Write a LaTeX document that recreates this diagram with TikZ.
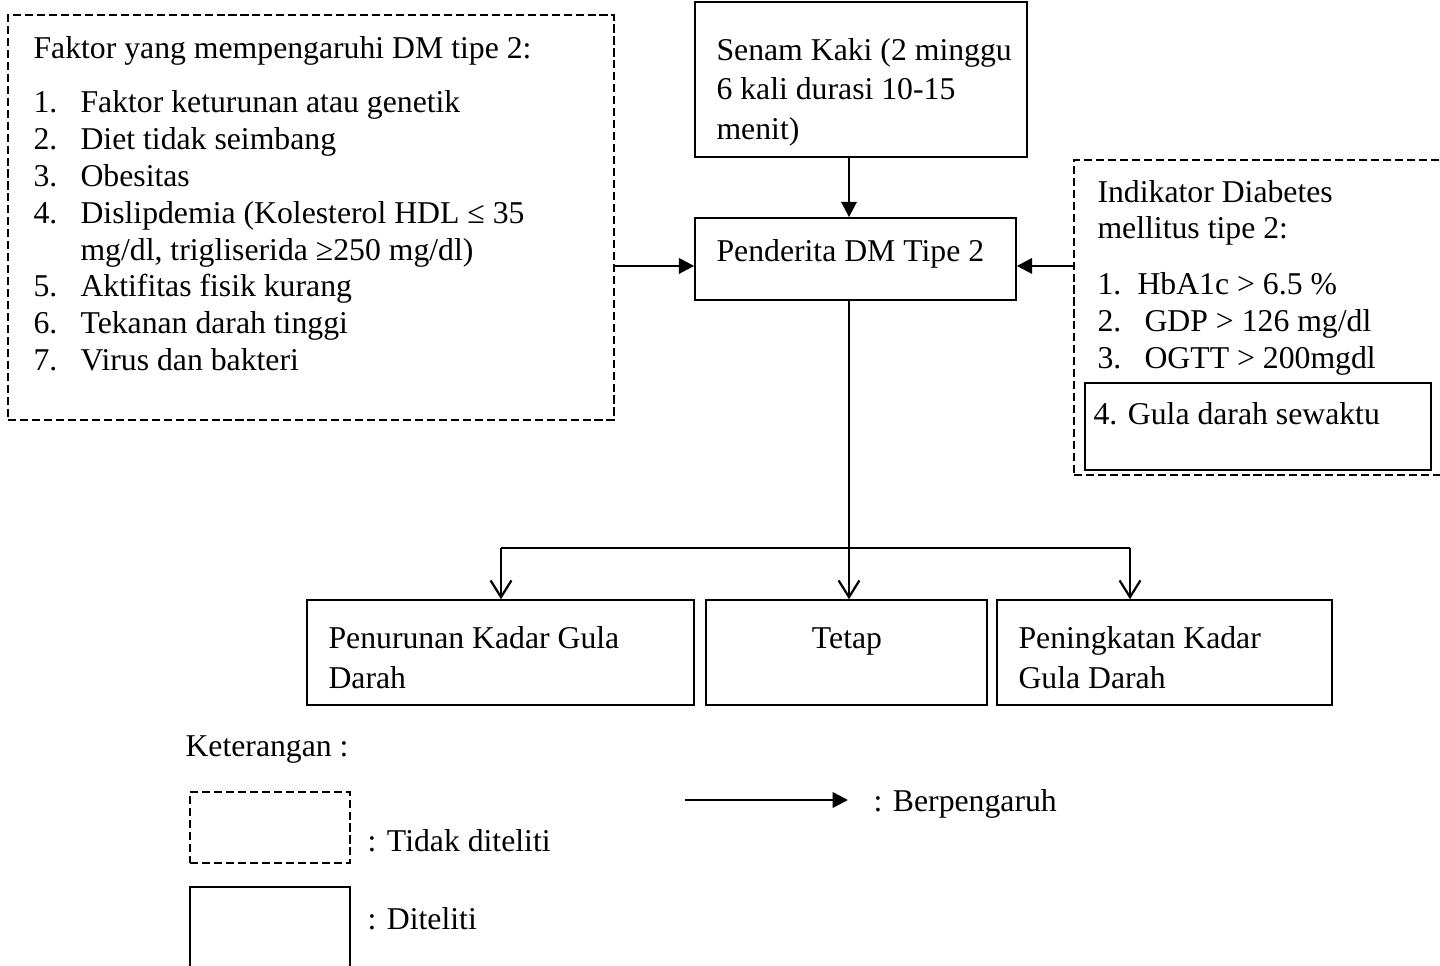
\documentclass[tikz,border=0pt]{standalone}
\usepackage{fontspec}
\setmainfont{Liberation Serif}
\usetikzlibrary{arrows.meta}

\begin{document}
\begin{tikzpicture}[x=0.3593pt, y=-0.3593pt,
  txt/.style={anchor=base west, inner sep=0pt, font=\fontsize{11.4}{13.5}\selectfont},
  box/.style={draw, line width=0.6pt, inner sep=0pt},
  dbox/.style={draw, line width=0.8pt, dash pattern=on 2.9pt off 1.4pt, inner sep=0pt},
  arr/.style={line width=0.9pt, -{Triangle[length=5.5pt, width=5.5pt]}},
  barr/.style={line width=0.8pt, -{Straight Barb[length=6pt, width=7.5pt]}}]
\useasboundingbox (0,0) rectangle (1440,965);
% boxes
\node[dbox, minimum width=217.7pt, minimum height=145.5pt] (fak) at (311,217.5) {};
\node[box, minimum width=119.3pt, minimum height=55.7pt] (senam) at (861,79.5) {};
\node[box, minimum width=115.3pt, minimum height=29.5pt] (pend) at (855.5,259) {};
\node[dbox, minimum width=133.7pt, minimum height=113.2pt] (ind) at (1260,317.5) {};
\node[box, minimum width=124.3pt, minimum height=31.3pt] (gds) at (1258,426.5) {};
\node[box, minimum width=139.0pt, minimum height=37.7pt] (turun) at (500.5,652.5) {};
\node[box, minimum width=101.0pt, minimum height=37.7pt] (tetap) at (846.5,652.5) {};
\node[box, minimum width=120.4pt, minimum height=37.7pt] (naik) at (1164.5,652.5) {};
\node[dbox, minimum width=57.5pt, minimum height=25.5pt] (ltdk) at (270,827.5) {};
\node[box, minimum width=57.5pt, minimum height=31.6pt] (ldit) at (270,931) {};
% texts, left box
\node[txt] (fakh) at (33,58) {Faktor yang mempengaruhi DM tipe 2:};
\node[txt] (fn1) at (33,112) {1.};
\node[txt] (ft1) at (80,112) {Faktor keturunan atau genetik};
\node[txt] (fn2) at (33,149) {2.};
\node[txt] (ft2) at (80,149) {Diet tidak seimbang};
\node[txt] (fn3) at (33,186) {3.};
\node[txt] (ft3) at (80,186) {Obesitas};
\node[txt] (fn4) at (33,223) {4.};
\node[txt] (ft4) at (80,223) {Dislipdemia (Kolesterol HDL ≤ 35};
\node[txt] (ft4b) at (80,260) {mg/dl, trigliserida ≥250 mg/dl)};
\node[txt] (fn5) at (33,296) {5.};
\node[txt] (ft5) at (80,296) {Aktifitas fisik kurang};
\node[txt] (fn6) at (33,333) {6.};
\node[txt] (ft6) at (80,333) {Tekanan darah tinggi};
\node[txt] (fn7) at (33,370) {7.};
\node[txt] (ft7) at (80,370) {Virus dan bakteri};
% texts, middle
\node[txt] (sk1) at (716,60) {Senam Kaki (2 minggu};
\node[txt] (sk2) at (716,99) {6 kali durasi 10-15};
\node[txt] (sk3) at (716,139) {menit)};
\node[txt] (pdt) at (716,261) {Penderita DM Tipe 2};
% texts, right box
\node[txt] (ih1) at (1097,202) {Indikator Diabetes};
\node[txt] (ih2) at (1097,238) {mellitus tipe 2:};
\node[txt] (in1) at (1097,294) {1.};
\node[txt] (it1) at (1137,294) {HbA1c > 6.5 \%};
\node[txt] (in2) at (1097,331) {2.};
\node[txt] (it2) at (1144,331) {GDP > 126 mg/dl};
\node[txt] (in3) at (1097,368) {3.};
\node[txt] (it3) at (1144,368) {OGTT > 200mgdl};
\node[txt] (it4) at (1093,424) {4. Gula darah sewaktu};
% texts, bottom
\node[txt] (tr1) at (328,648) {Penurunan Kadar Gula};
\node[txt] (tr2) at (328,688) {Darah};
\node[txt, anchor=base] (tt) at (847,648) {Tetap};
\node[txt] (nk1) at (1018,648) {Peningkatan Kadar};
\node[txt] (nk2) at (1018,688) {Gula Darah};
% legend
\node[txt] (ket) at (185,756) {Keterangan :};
\node[txt] (ltdkt) at (367,851) {: Tidak diteliti};
\node[txt] (lditt) at (367,929) {: Diteliti};
\node[txt] (larrt) at (873,811) {: Berpengaruh};
% connectors
\coordinate (mid) at (849,548);
\coordinate (hl) at (501,548);
\coordinate (hr) at (1130,548);
\coordinate (la) at (685,800);
\coordinate (lb) at (848,800);
\draw[arr] (senam.south -| mid) -- (pend.north -| mid);
\draw[arr] ([yshift=-2.5pt]pend.west -| fak.east) -- ([yshift=-2.5pt]pend.west);
\draw[arr] ([yshift=-2.5pt]pend.east -| ind.west) -- ([yshift=-2.5pt]pend.east);
\draw[line width=0.8pt] (pend.south -| mid) -- (mid);
\draw[line width=0.8pt] (hl) -- (hr);
\draw[barr] (hl) -- (hl |- turun.north);
\draw[barr] (mid) -- (mid |- tetap.north);
\draw[barr] (hr) -- (hr |- naik.north);
\draw[arr] (la) -- (lb);
\end{tikzpicture}
\end{document}
